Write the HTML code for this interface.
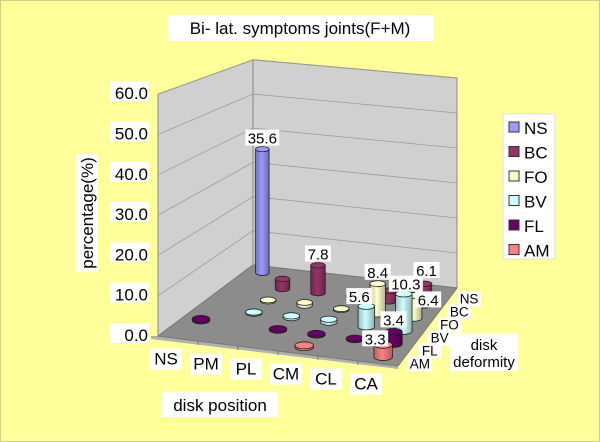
<!DOCTYPE html>
<html><head><meta charset="utf-8"><style>
html,body{margin:0;padding:0;background:#FFFF99;}
svg{display:block;font-family:"Liberation Sans",Arial,sans-serif;}
</style></head><body>
<svg id="chart" width="600" height="442" viewBox="0 0 600 442">
<rect x="0.5" y="0.5" width="599" height="441" fill="#FFFF99" stroke="#CCCC88"/>
<rect x="168" y="15" width="266" height="26" fill="#fff"/>
<text x="300" y="34" text-anchor="middle" font-size="17">Bi- lat. symptoms joints(F+M)</text>
<g id="plot"></g>
<g id="labels"></g>
<g id="legend"></g>
</svg>
<script>
const categories = ["NS","PM","PL","CM","CL","CA"];
const seriesNames = ["NS","BC","FO","BV","FL","AM"];
const seriesColors = ["#9999FF","#993366","#FFFFCC","#CCFFFF","#660066","#FF8080"];
const valsNS = [35.6,null,null,null,null,null];
const valsBC = [null,2.8,7.8,0.5,3,6.1];
const valsFO = [null,0.3,0.8,0.3,8.4,6.4];
const valsBV = [null,0.3,0.5,0.8,5.6,10.3];
const valsFL = [0.5,null,0.3,0.3,0.3,3.4];
const valsAM = [null,null,null,0.5,null,3.3];
const yTicks = [0,10,20,30,40,50,60];
const yTickLabels = ["0.0","10.0","20.0","30.0","40.0","50.0","60.0"];
const allVals = [valsNS,valsBC,valsFO,valsBV,valsFL,valsAM];
const yMax = 60;

const NS = "http://www.w3.org/2000/svg";
const C = {BL:[253,265,3.42],BR:[457,288,3.5],FL:[158,336,4.03],FR:[398,366,3.7]};
function P(u,v,h){
  const L=(a,b,t)=>a+(b-a)*t;
  const bx=L(C.BL[0],C.BR[0],u), by=L(C.BL[1],C.BR[1],u), bs=L(C.BL[2],C.BR[2],u);
  const fx=L(C.FL[0],C.FR[0],u), fy=L(C.FL[1],C.FR[1],u), fs=L(C.FL[2],C.FR[2],u);
  const x=L(bx,fx,v), y=L(by,fy,v), s=L(bs,fs,v);
  return [x, y - h*s];
}
function el(tag,attrs,parent){const e=document.createElementNS(NS,tag);for(const k in attrs)e.setAttribute(k,attrs[k]);parent.appendChild(e);return e;}
const plot=document.getElementById('plot');
const lab=document.getElementById('labels');
const pts=a=>a.map(p=>p.join(',')).join(' ');

let w=el('polygon',{points:pts([P(0,0,0),P(0,1,0),P(0,1,yMax),P(0,0,yMax)]),fill:"#D0D0D0",stroke:"#888"},plot);


w=el('polygon',{points:pts([P(0,0,0),P(1,0,0),P(1,0,yMax),P(0,0,yMax)]),fill:"#D0D0D0",stroke:"#888"},plot);


yTicks.forEach((t,i)=>{
  if(i===0)return;
  const g=el('polyline',{points:pts([P(0,1,t),P(0,0,t),P(1,0,t)]),fill:"none",stroke:"#999","stroke-width":0.8},plot);
  
  
});
const fl=P(0,1,0), fr=P(1,1,0);
w=el('polygon',{points:pts([[fl[0]-7,fl[1]],fl,fr,[fr[0],fr[1]+3],[fl[0]-7,fl[1]+3]]),fill:"#B0B0B0"},plot);


w=el('polygon',{points:pts([P(0,0,0),P(1,0,0),P(1,1,0),P(0,1,0)]),fill:"#8C8C8C",stroke:"#777"},plot);


for(let i=1;i<6;i++){const a=P(i/6,1,0);
  const t=el('line',{x1:a[0],y1:a[1],x2:a[0],y2:a[1]+4,stroke:"#777"},plot);
  
  }

function shade(hex,f){const n=parseInt(hex.slice(1),16);let r=n>>16,g=(n>>8)&255,b=n&255;
  r=Math.round(r*f);g=Math.round(g*f);b=Math.round(b*f);return `rgb(${r},${g},${b})`;}
// label nudges (series index, category index) -> [dx, dy]
const labelNudge = {"2,5":[14,16],"5,5":[-8,6],"3,4":[-7,2],"1,5":[2,-2],"3,5":[2,2]};
const labelsToDraw=[];
for(let j=0;j<6;j++){
  const v=(j+0.5)/6;
  for(let i=0;i<6;i++){
    const val=allVals[j][i]; if(val===null)continue;
    const u=(i+0.5)/6;
    const b=P(u,v,0), t=P(u,v,val);
    const rx=6.5+3*v, ry=rx*0.38;
    const col=seriesColors[j];
    const g=el('g',{},plot);
    
    
    const id='gr'+j;
    if(!document.getElementById(id)){
      const defs=el('defs',{},plot);
      const lg=el('linearGradient',{id:id,x1:0,x2:1,y1:0,y2:0},defs);
      el('stop',{offset:"0",'stop-color':shade(col,0.75)},lg);
      el('stop',{offset:"0.45",'stop-color':col},lg);
      el('stop',{offset:"1",'stop-color':shade(col,0.7)},lg);
    }
    const d=`M${b[0]-rx},${t[1]} L${b[0]-rx},${b[1]} A${rx},${ry} 0 0 0 ${b[0]+rx},${b[1]} L${b[0]+rx},${t[1]} Z`;
    el('path',{d:d,fill:`url(#${id})`,stroke:"#222","stroke-width":0.8},g);
    el('ellipse',{cx:t[0],cy:t[1],rx:rx,ry:ry,fill:col,stroke:"#222","stroke-width":0.8},g);
    if(val>=3.2){const n=labelNudge[j+","+i]||[0,0];
      labelsToDraw.push([t[0]+n[0],t[1]-ry-3+n[1],val.toFixed(1)]);}
  }
}
labelsToDraw.forEach(([x,y,s])=>{
  const g=el('g',{},plot);
  
  
  const wdt=s.length*8+2;
  el('rect',{x:x-wdt/2,y:y-14,width:wdt,height:16,fill:"#fff"},g);
  const tx=el('text',{x:x,y:y,'text-anchor':'middle','font-size':15},g);tx.textContent=s;
});

yTicks.forEach((t,i)=>{
  const a=P(0,1,t);
  const g=el('g',{},lab);
  
  
  el('rect',{x:110,y:a[1]-13,width:39,height:20,fill:"#fff"},g);
  const tx=el('text',{x:148,y:a[1]+5,'text-anchor':'end','font-size':17},g);tx.textContent=yTickLabels[i];
});
categories.forEach((c,i)=>{
  const a=P((i+0.5)/6,1,0);
  const g=el('g',{},lab);
  
  
  const x=a[0]-12, y=a[1]+26;
  el('rect',{x:x-16,y:y-16,width:32,height:21,fill:"#fff"},g);
  const tx=el('text',{x:x,y:y,'text-anchor':'middle','font-size':17},g);tx.textContent=c;
});
seriesNames.forEach((s,j)=>{
  const a=P(1,(j+0.5)/6,0);
  const g=el('g',{},lab);
  
  
  const x=a[0]+17, y=a[1]+9;
  el('rect',{x:x-12,y:y-12,width:24,height:15,fill:"#fff"},g);
  const tx=el('text',{x:x,y:y,'text-anchor':'middle','font-size':13.5},g);tx.textContent=s;
});
</script>
<script>
const lab2=document.getElementById('labels');
function mk(tag,attrs,parent){const e=document.createElementNS("http://www.w3.org/2000/svg",tag);for(const k in attrs)e.setAttribute(k,attrs[k]);parent.appendChild(e);return e;}
mk('rect',{x:450,y:333,width:68,height:38,fill:"#fff"},lab2);
let t=mk('text',{x:484,y:350,'text-anchor':'middle','font-size':15},lab2);t.textContent="disk";


t=mk('text',{x:484,y:367,'text-anchor':'middle','font-size':15},lab2);t.textContent="deformity";


mk('rect',{x:162,y:392,width:116,height:25,fill:"#fff"},lab2);
t=mk('text',{x:220,y:411,'text-anchor':'middle','font-size':17},lab2);t.textContent="disk position";


mk('rect',{x:76,y:154,width:22,height:118,fill:"#fff"},lab2);
t=mk('text',{x:93,y:213,'text-anchor':'middle','font-size':17,transform:'rotate(-90 93 213)'},lab2);t.textContent="percentage(%)";


const lg=document.getElementById('legend');
mk('rect',{x:503,y:114,width:52,height:145,fill:"#fff",stroke:"#ddd"},lg);
seriesNames.forEach((s,j)=>{
  const y=128+j*24.5;
  const g=mk('g',{},lg);
  
  
  mk('rect',{x:509,y:y-6,width:10,height:10,fill:seriesColors[j],stroke:"#333"},g);
  const tx=mk('text',{x:524,y:y+6,'font-size':17},g);tx.textContent=s;
});
</script>
</body></html>
